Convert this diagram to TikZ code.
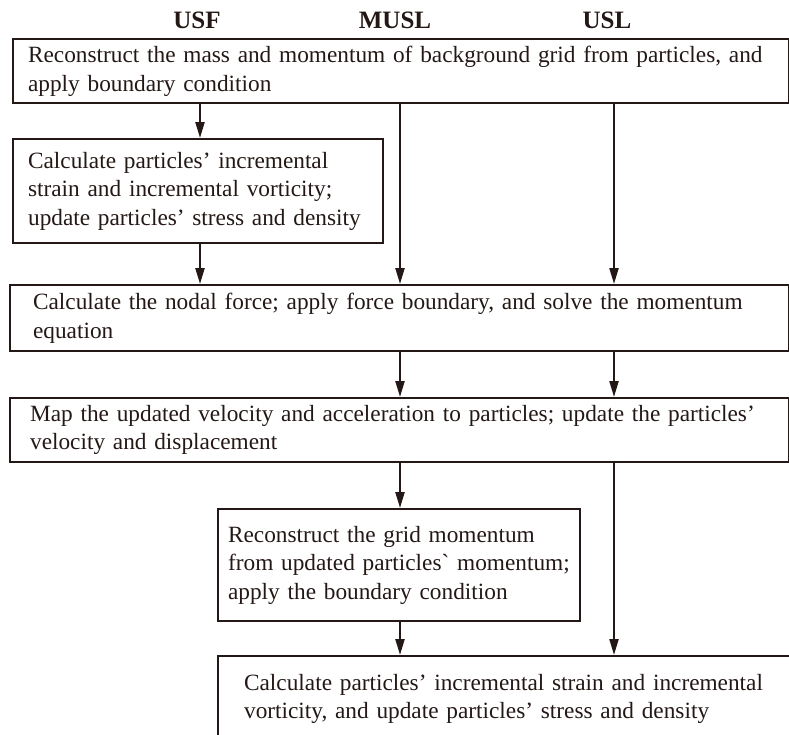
\documentclass[tikz,border=0pt]{standalone}
\usepackage{fontspec}
\setmainfont{Liberation Serif}
\usetikzlibrary{arrows.meta}
\definecolor{ink}{HTML}{231815}

\begin{document}
\begin{tikzpicture}[x=1pt,y=-1pt,
  box/.style={draw=ink,line width=2.2pt,anchor=north west,align=left,inner ysep=0pt,
    font=\fontsize{23.3}{28.5}\selectfont,text=ink},
  flow/.style={draw=ink,line width=2.2pt,-{Triangle[length=16pt,width=9pt]}},
  head/.style={font=\fontsize{25}{30}\selectfont\bfseries,text=ink}]
\useasboundingbox (0,0) rectangle (789,734);
\node[head] (usf) at (197,20) {USF};
\node[head] (musl) at (395,20) {MUSL};
\node[head] (usl) at (607,20) {USL};
\coordinate (cusf) at (200,0);
\coordinate (cmusl) at (400,0);
\coordinate (cusl) at (614,0);
\node[box,minimum width=776,minimum height=64,inner xsep=15,text width=746] (grid) at (12,38)
  {Reconstruct the mass and momentum of background grid from particles, and\\apply boundary condition};
\node[box,minimum width=370,minimum height=104,inner xsep=15,text width=340] (strain) at (12,138)
  {Calculate particles’ incremental\\strain and incremental vorticity;\\update particles’ stress and density};
\node[box,minimum width=779,minimum height=66,inner xsep=23,text width=733] (force) at (9,284)
  {Calculate the nodal force; apply force boundary, and solve the momentum\\equation};
\node[box,minimum width=779,minimum height=64,inner xsep=20,text width=739] (map) at (9,397)
  {Map the updated velocity and acceleration to particles; update the particles’\\velocity and displacement};
\node[box,minimum width=362,minimum height=112,inner xsep=10,text width=342] (regrid) at (217,508)
  {Reconstruct the grid momentum\\from updated particles\textasciigrave\ momentum;\\apply the boundary condition};
\node[box,minimum width=583,minimum height=86,inner xsep=26,text width=531] (stress) at (217,655)
  {Calculate particles’ incremental strain and incremental\\vorticity, and update particles’ stress and density};
\draw[flow] (grid.south -| cusf) -- (strain.north -| cusf);
\draw[flow] (strain.south -| cusf) -- (force.north -| cusf);
\draw[flow] (grid.south -| cmusl) -- (force.north -| cmusl);
\draw[flow] (grid.south -| cusl) -- (force.north -| cusl);
\draw[flow] (force.south -| cmusl) -- (map.north -| cmusl);
\draw[flow] (force.south -| cusl) -- (map.north -| cusl);
\draw[flow] (map.south -| cmusl) -- (regrid.north -| cmusl);
\draw[flow] (map.south -| cusl) -- (stress.north -| cusl);
\draw[flow] (regrid.south -| cmusl) -- (stress.north -| cmusl);
\end{tikzpicture}
\end{document}
